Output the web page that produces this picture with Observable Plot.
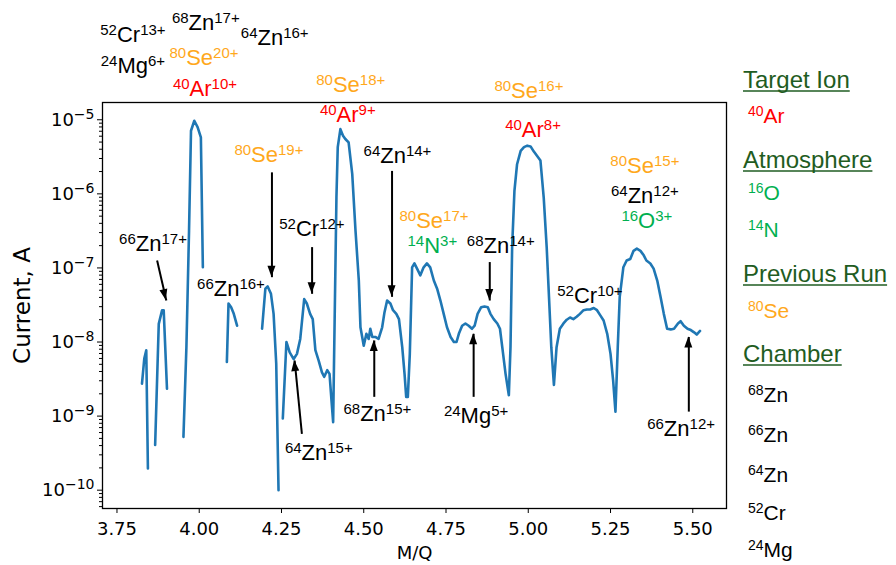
<!DOCTYPE html>
<html><head><meta charset="utf-8">
<script src="https://cdn.jsdelivr.net/npm/d3@7"></script>
<script src="https://cdn.jsdelivr.net/npm/@observablehq/plot@0.6"></script>
<style>body{margin:0;background:#fff;} svg{display:block}</style>
</head><body><div id="chart"></div>
<script>
// ---- measured spectrum (null = gap, value not positive) ----
const mq = [
 3.826,3.833,3.839,3.844, 3.855,
 3.866,3.877,3.887,3.892,3.902, 3.930,
 3.952,3.961,3.969,3.975,3.985,3.995,4.005,4.011, 4.050,
 4.084,4.089,4.097,4.105,4.115, 4.150,
 4.191,4.201,4.208,4.218,4.226,4.234,4.241, 4.248,
 4.254,4.265,4.275,4.287,4.297,4.307,4.319,4.327,4.337,4.345,4.353,4.363,4.373,4.380,4.389,4.396,4.402,4.407,
 4.417,4.421,4.429,4.437,4.444,4.454,4.465,4.475,4.485,4.490,4.500,4.508,4.515,4.520,4.526,4.535,4.545,4.556,
 4.563,4.571,4.581,4.589,4.599,4.607,4.617,4.624,4.629,4.634,4.640,4.647,4.654,4.662,4.672,4.682,4.692,4.702,
 4.713,4.723,4.733,4.743,4.753,4.764,4.774,4.782,4.789,4.799,4.809,4.819,4.829,4.837,4.846,4.857,4.867,4.877,
 4.885,4.895,4.906,4.914,4.921,4.931,4.941,4.946,4.951,4.958,4.966,4.977,4.987,4.997,5.007,5.017,5.027,5.037,
 5.047,5.056,5.063,5.070,5.078,5.086,5.096,5.107,5.117,5.127,5.137,5.147,5.157,5.168,5.178,5.188,5.199,5.209,
 5.219,5.229,5.240,5.250,5.258,5.265,5.272,5.278,5.289,5.299,5.310,5.320,5.330,5.341,5.351,5.359,5.371,5.381,
 5.392,5.402,5.412,5.422,5.433,5.443,5.455,5.463,5.473,5.484,5.494,5.504,5.512,5.522
];
const current = [
 2.74e-9,5.96e-9,7.71e-9,1.96e-10, null,
 4.07e-10,1.76e-8,2.67e-8,2.67e-8,2.34e-9, null,
 5.25e-10,8.5e-9,3.16e-7,7.11e-6,9.70e-6,7.94e-6,5.78e-6,1.02e-7, null,
 5.37e-9,3.31e-8,2.95e-8,2.40e-8,1.66e-8, null,
 1.51e-8,5.25e-8,5.62e-8,4.47e-8,2.40e-8,5.13e-9,1.0e-10, null,
 9.3e-10,1.0e-8,7.24e-9,5.89e-9,6.92e-9,1.10e-8,3.80e-8,3.31e-8,2.40e-8,2.04e-8,7.76e-9,5.62e-9,3.89e-9,3.39e-9,4.17e-9,3.72e-9,1.62e-9,8.3e-10,
 8.91e-7,4.27e-6,7.48e-6,6.08e-6,5.50e-6,4.94e-6,1.86e-6,3.16e-7,6.76e-8,1.58e-8,8.91e-9,1.29e-8,1.10e-8,1.51e-8,1.17e-8,1.17e-8,1.10e-8,1.58e-8,
 2.51e-8,3.63e-8,3.31e-8,2.69e-8,2.40e-8,2.04e-8,8.51e-9,3.72e-9,1.82e-9,1.82e-9,6.92e-9,1.02e-7,1.15e-7,9.77e-8,7.94e-8,1.02e-7,1.15e-7,1.02e-7,
 6.76e-8,5.25e-8,3.63e-8,2.40e-8,1.58e-8,1.17e-8,1.0e-8,1.0e-8,1.29e-8,1.66e-8,1.78e-8,1.66e-8,1.51e-8,1.66e-8,2.40e-8,2.95e-8,3.02e-8,2.95e-8,
 2.40e-8,2.04e-8,1.78e-8,1.51e-8,8.51e-9,3.72e-9,1.91e-9,8.51e-9,1.91e-7,1.10e-6,2.51e-6,3.80e-6,4.27e-6,4.47e-6,4.37e-6,3.72e-6,3.24e-6,2.82e-6,
 8.91e-7,1.91e-7,4.07e-8,8.51e-9,2.63e-9,8.51e-9,1.51e-8,1.78e-8,2.00e-8,2.14e-8,2.04e-8,2.19e-8,2.40e-8,2.69e-8,2.75e-8,2.75e-8,2.88e-8,2.69e-8,
 2.29e-8,1.95e-8,1.29e-8,6.92e-9,3.02e-9,1.15e-9,8.51e-9,4.07e-8,1.02e-7,1.26e-7,1.32e-7,1.70e-7,1.82e-7,1.70e-7,1.48e-7,1.26e-7,1.15e-7,9.77e-8,
 6.76e-8,4.07e-8,2.40e-8,1.51e-8,1.48e-8,1.51e-8,1.78e-8,1.91e-8,1.66e-8,1.51e-8,1.45e-8,1.35e-8,1.26e-8,1.41e-8
];
const xTicks = [3.75, 4.00, 4.25, 4.50, 4.75, 5.00, 5.25, 5.50];
const yTicks = [1e-10, 1e-9, 1e-8, 1e-7, 1e-6, 1e-5];

// ---- peak labels (anchored in data coordinates) ----
const annIsotope = ["52","68","64","24","80","40","80","40","80","40","80","64","80","64","16","80","14","52","66","68","66","52","68","24","66","64"];
const annElement = ["Cr","Zn","Zn","Mg","Se","Ar","Se","Ar","Se","Ar","Se","Zn","Se","Zn","O","Se","N","Cr","Zn","Zn","Zn","Cr","Zn","Mg","Zn","Zn"];
const annCharge  = ["13+","17+","16+","6+","20+","10+","18+","9+","16+","8+","19+","14+","15+","12+","3+","17+","3+","12+","17+","14+","16+","10+","15+","5+","12+","15+"];
const annSource  = ["chamber","chamber","chamber","chamber","previous","target","previous","target","previous","target","previous","chamber","previous","chamber","atmosphere","previous","atmosphere","chamber","chamber","chamber","chamber","chamber","chamber","chamber","chamber","chamber"];
const annMQ      = [3.800,4.0215,4.231,3.800,4.016,4.019,4.462,4.453,5.0036,5.016,4.2134,4.604,5.356,5.356,5.362,4.715,4.710,4.344,3.861,4.918,4.098,5.189,4.543,4.843,5.466,4.365];
const annCurrent = [1.10e-4,1.62e-4,9.93e-5,4.17e-5,5.35e-5,2.04e-5,2.31e-5,9.2e-6,1.92e-5,5.77e-6,2.63e-6,2.53e-6,1.87e-6,7.38e-7,3.40e-7,3.40e-7,1.56e-7,2.67e-7,1.66e-7,1.56e-7,4.12e-8,3.31e-8,8.34e-10,8.0e-10,5.35e-10,2.54e-10];

// ---- arrows (tail -> tip) ----
const arrowMQ1 = [3.872,4.221,4.343,4.586,4.312,4.532,4.883,4.834,5.488];
const arrowCur1 = [1.26e-7,1.95e-6,1.91e-7,2.04e-6,5.75e-10,1.82e-9,1.20e-7,1.82e-9,1.15e-9];
const arrowMQ2 = [3.900,4.221,4.343,4.586,4.290,4.532,4.883,4.834,5.488];
const arrowCur2 = [3.63e-8,7.5e-8,4.47e-8,4.07e-8,5.62e-9,1.05e-8,3.63e-8,1.29e-8,1.17e-8];

// ---- legend ----
const legendTitles = ["Target Ion","Atmosphere","Previous Run","Chamber"];
const legendSources = ["target","atmosphere","previous","chamber"];
const legendIsotopes = [["40"],["16","14"],["80"],["68","66","64","52","24"]];
const legendElements = [["Ar"],["O","N"],["Se"],["Zn","Zn","Zn","Cr","Mg"]];

// ---- styles / layout ----
const sourceColor = {target:"#ff0000", atmosphere:"#00b050", previous:"#ffa81c", chamber:"#000000"};
const headerColor = "#1f5c22";
const legendTitleY = [88, 168, 282, 362];
const legendItemY = [[123],[200,237],[318],[402,442,482,520,557]];
const labelFont = "'Liberation Sans', Arial, sans-serif";

const logFmt = d => "10^" + String(Math.round(Math.log10(d))).replace("-", "\u2212");
const minorY = [];
for (let e = -11; e <= -5; e++) for (let m = 2; m <= 9; m++) { const v = m * Math.pow(10, e); if (v > 5.66e-11 && v < 1.71e-5) minorY.push(v); }

const rows = mq.map((m, i) => ({mq: m, current: current[i] == null ? NaN : current[i]}));
const arrows = arrowMQ1.map((m, i) => ({x1: m, y1: arrowCur1[i], x2: arrowMQ2[i], y2: arrowCur2[i]}));

const plot = Plot.plot({
  width: 896, height: 565,
  marginLeft: 102, marginRight: 170, marginTop: 102, marginBottom: 57,
  style: {fontFamily: "'DejaVu Sans', sans-serif", fontSize: "18px", color: "#000", background: "#fff"},
  x: {domain: [3.706, 5.6025], label: null},
  y: {type: "log", domain: [5.66e-11, 1.71e-5], label: null},
  marks: [
    Plot.axisY({ticks: minorY, tickSize: 3, tickFormat: () => "", label: null}),
    Plot.axisY({ticks: yTicks, tickSize: 5, tickPadding: 3, tickFormat: logFmt, label: null}),
    Plot.axisX({ticks: xTicks, tickSize: 5, tickPadding: 9, tickFormat: d3.format(".2f"), label: null}),
    Plot.line(rows, {x: "mq", y: "current", stroke: "#1f77b4", strokeWidth: 2.6}),
    Plot.link(arrows, {x1: "x1", y1: "y1", x2: "x2", y2: "y2", stroke: "#000", strokeWidth: 2}),
    Plot.frame({stroke: "#000", strokeWidth: 1.3}),
    Plot.text(["M/Q"], {frameAnchor: "bottom", textAnchor: "middle", dy: 50, fontSize: 18}),
    Plot.text(["Current, A"], {frameAnchor: "left", textAnchor: "middle", dx: -80, rotate: -90, fontSize: 23})
  ]
});
document.getElementById("chart").append(plot);

// y tick labels as 10 with a raised exponent
plot.querySelectorAll("text").forEach(t => {
  const s = t.textContent;
  if (s.startsWith("10^")) {
    const exp = s.slice(3);
    t.textContent = "";
    const base = document.createElementNS("http://www.w3.org/2000/svg", "tspan");
    base.textContent = "10";
    const ex = document.createElementNS("http://www.w3.org/2000/svg", "tspan");
    ex.textContent = exp;
    ex.setAttribute("dy", "-7");
    ex.setAttribute("font-size", "14");
    t.append(base, ex);
  }
});

const sx = plot.scale("x"), sy = plot.scale("y");
const svg = d3.select(plot);
const g = svg.append("g");

function rich(x, y, iso, el, chg, color, main, supSize, anchor) {
  const t = g.append("text").attr("x", x).attr("y", y).attr("fill", color)
    .attr("text-anchor", anchor)
    .style("font-family", labelFont).style("font-size", main + "px");
  const shift = Math.round(main * 0.33);
  t.append("tspan").style("font-size", supSize + "px").attr("dy", -shift).text(iso);
  t.append("tspan").attr("dy", shift).text(el);
  if (chg) t.append("tspan").style("font-size", supSize + "px").attr("dy", -shift).text(chg);
  return t;
}

// peak labels
annMQ.forEach((m, i) => {
  rich(sx.apply(m), sy.apply(annCurrent[i]), annIsotope[i], annElement[i], annCharge[i],
       sourceColor[annSource[i]], 22, 15, "middle");
});

// arrow heads
arrows.forEach(a => {
  const x1 = sx.apply(a.x1), y1 = sy.apply(a.y1), x2 = sx.apply(a.x2), y2 = sy.apply(a.y2);
  const L = Math.hypot(x2 - x1, y2 - y1), ux = (x2 - x1) / L, uy = (y2 - y1) / L;
  const hl = 11, hw = 4;
  const bx = x2 - ux * hl, by = y2 - uy * hl;
  g.append("polygon")
    .attr("points", [[x2, y2], [bx - uy * hw, by + ux * hw], [bx + uy * hw, by - ux * hw]].map(p => p.join(",")).join(" "))
    .attr("fill", "#000");
});

// legend
legendTitles.forEach((title, k) => {
  const t = g.append("text").attr("x", 743).attr("y", legendTitleY[k]).attr("fill", headerColor)
    .attr("text-anchor", "start")
    .style("font-family", labelFont).style("font-size", "24px").text(title);
  const w = t.node().getComputedTextLength();
  g.append("line").attr("x1", 743).attr("x2", 743 + w).attr("y1", legendTitleY[k] + 3).attr("y2", legendTitleY[k] + 3)
    .attr("stroke", headerColor).attr("stroke-width", 1.6);
  legendIsotopes[k].forEach((iso, j) => {
    rich(748, legendItemY[k][j], iso, legendElements[k][j], "", sourceColor[legendSources[k]], 21, 14, "start");
  });
});
</script>
</body></html>
